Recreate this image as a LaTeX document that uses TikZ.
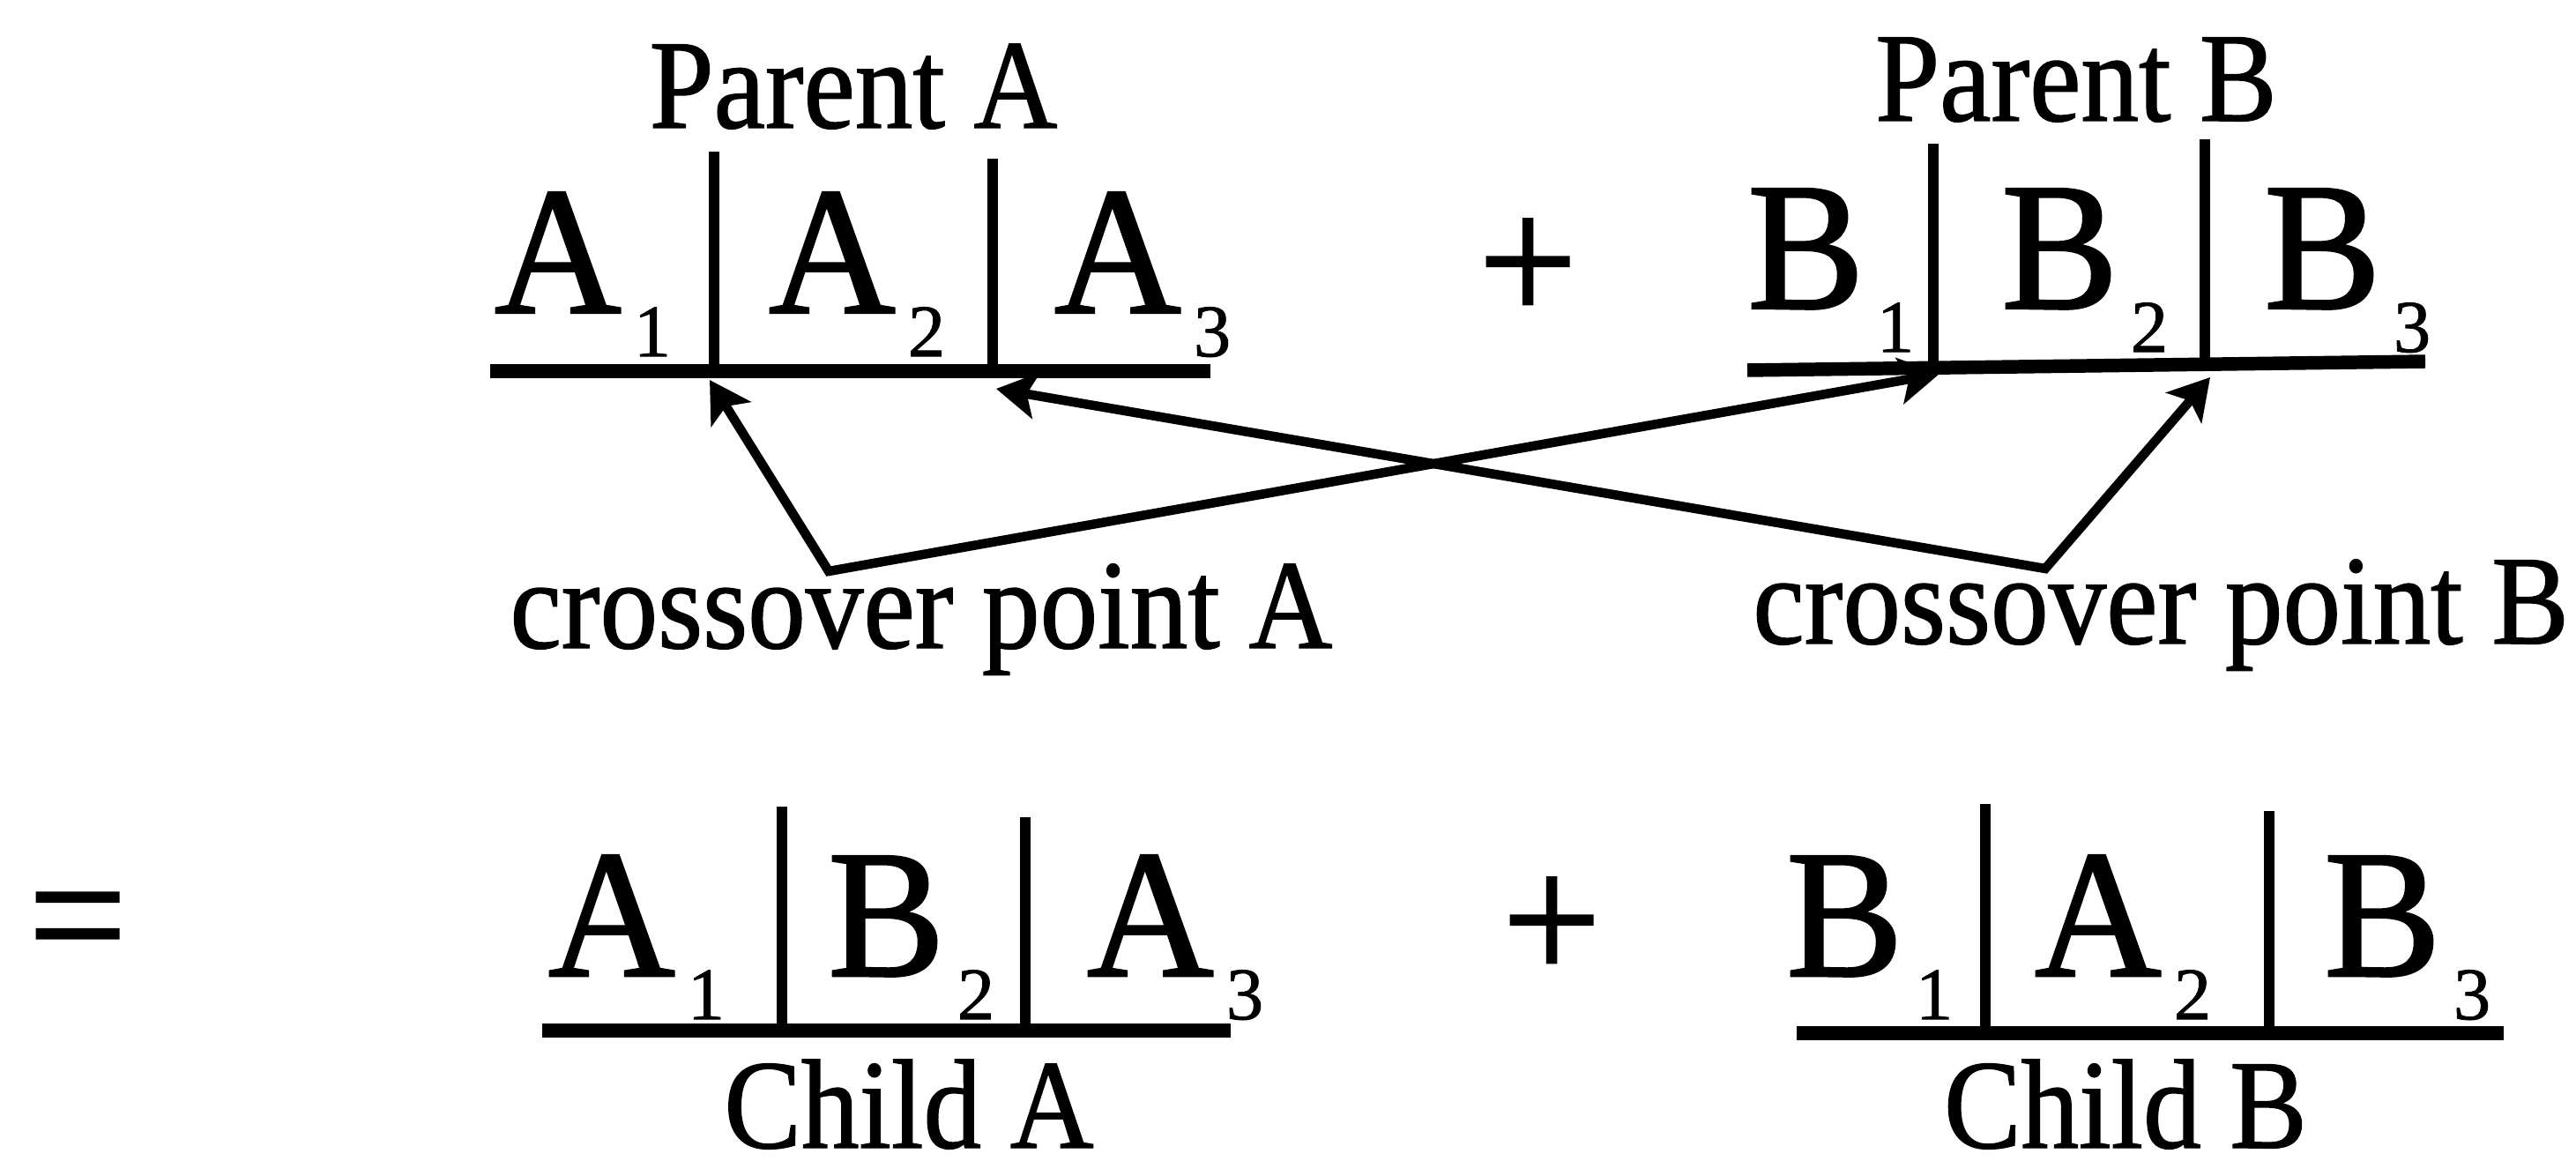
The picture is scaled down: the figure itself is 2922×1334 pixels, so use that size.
\documentclass[tikz,border=0pt]{standalone}
\usepackage{fontspec}
\setmainfont{Liberation Serif}
\newfontfamily\genefont[FakeStretch=0.96,FakeBold=1.2]{Liberation Serif}
\newfontfamily\subfont[FakeBold=1]{Liberation Serif}
\newfontfamily\lblfont[FakeStretch=0.91,FakeBold=1]{Liberation Serif}
\usepackage{tikz}
\usetikzlibrary{arrows.meta,positioning}
\newcommand{\bigsz}{\genefont\fontsize{59}{60}\selectfont}
\newcommand{\subsz}{\subfont\fontsize{24}{26}\selectfont}
\newcommand{\lblsz}{\lblfont\fontsize{41}{42}\selectfont}
\newcommand{\gene}[2]{#1\kern4pt\raisebox{-14pt}{\subsz #2}}
\tikzset{
  >=Stealth,
  chrom/.style={line width=4.4pt},
  cut/.style={line width=3.4pt},
}

\begin{document}
\begin{tikzpicture}[
  x=0.01cm, y=-0.01cm,
  every node/.style={inner sep=0pt, outer sep=0pt},
  xarrow/.style={<->, line width=3pt, >={Stealth[length=13pt,width=15pt,inset=3pt]}},
  gene/.style={anchor=base west, font=\bigsz},
  sym/.style={font=\bigsz},
  lbl/.style={anchor=base, font=\lblsz}
]
\useasboundingbox (0,0) rectangle (2922,1334);

% parents
\node[lbl] (parA) at (968,145) {Parent A};
\node[gene] (pa1) at (561,355) {\gene{A}{1}};
\node[gene] (pa2) at (872,355) {\gene{A}{2}};
\node[gene] (pa3) at (1196,355) {\gene{A}{3}};
\draw[chrom] (556,421) -- (1373,421);
\draw[cut] (810,172) -- (810,421);
\draw[cut] (1126,180) -- (1126,421);

\node[sym] (plusTop) at (1733,307) {+};

\node[lbl] (parB) at (2355,137) {Parent B};
\node[gene] (pb1) at (1982,350) {\gene{B}{1}};
\node[gene] (pb2) at (2270,350) {\gene{B}{2}};
\node[gene] (pb3) at (2568,350) {\gene{B}{3}};
\draw[chrom] (1982,420) -- (2751,410);
\draw[cut] (2193,163) -- (2193,418);
\draw[cut] (2501,158) -- (2501,414);

% crossover points
\node[lbl] (crossA) at (1045,735) {crossover point A};
\node[lbl,anchor=base east] (crossB) at (2914,730) {crossover point B};
\coordinate (xa) at (940,648);
\coordinate (xb) at (2320,645);
\coordinate (ta1) at (805,431);
\coordinate (ta2) at (1130,441);
\coordinate (tb1) at (2200,424);
\coordinate (tb2) at (2507,428);
\draw[xarrow] (ta1) -- (xa) -- (tb1);
\draw[xarrow] (ta2) -- (xb) -- (tb2);

% children
\node[sym] (eq) at (88,1060) {=};

\node[gene] (ca1) at (622,1107) {\gene{A}{1}};
\node[gene] (cb2) at (939,1107) {\gene{B}{2}};
\node[gene] (ca3) at (1233,1107) {\gene{A}{3}};
\draw[chrom] (615,1169) -- (1396,1169);
\draw[cut] (887,915) -- (887,1169);
\draw[cut] (1163,927) -- (1163,1169);
\node[lbl] (childA) at (1031,1302) {Child A};

\node[sym] (plusBot) at (1760,1054) {+};

\node[gene] (cb1) at (2026,1107) {\gene{B}{1}};
\node[gene] (ca2) at (2308,1107) {\gene{A}{2}};
\node[gene] (cb3) at (2636,1107) {\gene{B}{3}};
\draw[chrom] (2038,1172) -- (2840,1172);
\draw[cut] (2252,912) -- (2252,1172);
\draw[cut] (2574,920) -- (2574,1172);
\node[lbl] (childB) at (2411,1302) {Child B};

\end{tikzpicture}
\end{document}
